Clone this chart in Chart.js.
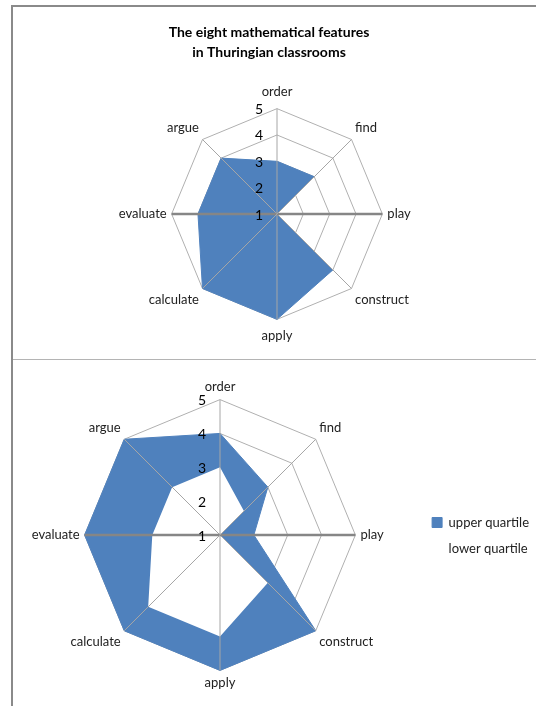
<!DOCTYPE html>
<html>
<head>
<meta charset="utf-8">
<script src="https://cdn.jsdelivr.net/npm/chart.js@4.4.1/dist/chart.umd.min.js"></script>
<style>
  html, body { margin: 0; padding: 0; background: #fff; }
  body { width: 536px; height: 706px; position: relative; overflow: hidden; }
  .frame { position: absolute; left: 11px; top: 5px; width: 540px; height: 720px; border-left: 2px solid #8a8a8a; border-top: 2px solid #8a8a8a; }
  .sep { position: absolute; left: 13px; top: 359px; width: 523px; height: 0; border-top: 1px solid #b4b4b4; }
  #topChart { position: absolute; left: 13px; top: 8px; }
  #bottomChart { position: absolute; left: 13px; top: 360px; }
</style>
</head>
<body>
<div class="frame"></div>
<div class="sep"></div>
<canvas id="topChart" width="523" height="351"></canvas>
<canvas id="bottomChart" width="526" height="346"></canvas>
<script>
// Data
const features = ['order', 'find', 'play', 'construct', 'apply', 'calculate', 'evaluate', 'argue'];
const overallValues = [3, 3, 1, 4, 5, 5, 4, 4];
const upperQuartile = [4, 3, 2, 5, 5, 5, 5, 5];
const lowerQuartile = [3, 2, 1, 3, 4, 4, 3, 3];
const tickValues = [1, 2, 3, 4, 5];

const BLUE = '#4F81BD';
const FONT = 'Lato';

// Spokes go on top of the filled areas (rings stay underneath, like Excel)
const spokesPlugin = {
    id: 'spokes',
    afterDatasetsDraw(chart) {
        const scale = chart.scales.r;
        const ctx = chart.ctx;
        ctx.save();
        for (let i = features.length - 1; i >= 0; i--) {
            const horizontal = (i === 2 || i === 6);
            const end = scale.getPointPositionForValue(i, scale.max);
            ctx.beginPath();
            ctx.strokeStyle = horizontal ? '#868686' : '#a6a6a6';
            ctx.lineWidth = horizontal ? 2.5 : 1;
            ctx.moveTo(scale.xCenter, scale.yCenter);
            ctx.lineTo(end.x, end.y);
            ctx.stroke();
        }
        ctx.restore();
    }
};

// Excel-style tick numbers sitting left of the vertical axis
const tickLabelPlugin = {
    id: 'tickLabels',
    afterDraw(chart) {
        const scale = chart.scales.r;
        const ctx = chart.ctx;
        ctx.save();
        ctx.font = '14px ' + FONT;
        ctx.fillStyle = '#000';
        ctx.textAlign = 'right';
        ctx.textBaseline = 'middle';
        tickValues.forEach(v => {
            const p = scale.getPointPositionForValue(0, v);
            ctx.fillText(String(v), p.x - 14, p.y + 1);
        });
        ctx.restore();
    }
};

function radarScale(vPad) {
    return {
        min: 1,
        max: 5,
        ticks: { display: false, stepSize: 1 },
        grid: { color: '#b0b0b0', lineWidth: 1 },
        angleLines: { display: false },
        pointLabels: {
            color: '#222',
            padding: ctx => (ctx.index === 0 || ctx.index === 4) ? vPad : 5,
            font: { family: FONT, size: 13 }
        }
    };
}

new Chart(document.getElementById('topChart'), {
    type: 'radar',
    data: {
        labels: features,
        datasets: [{
            label: 'Thuringian classrooms',
            data: overallValues,
            fill: true,
            backgroundColor: BLUE,
            borderColor: BLUE,
            borderWidth: 1,
            pointRadius: 0,
            pointHoverRadius: 0
        }]
    },
    options: {
        responsive: false,
        animation: false,
        layout: { padding: { left: 92, right: 103, top: 0, bottom: 15 } },
        scales: { r: radarScale(9) },
        plugins: {
            legend: { display: false },
            tooltip: { enabled: false },
            title: {
                display: true,
                text: ['The eight mathematical features', 'in Thuringian classrooms'],
                color: '#000',
                font: { family: FONT, size: 14, weight: 'bold', lineHeight: 1.43 },
                padding: { top: 14, bottom: 22 }
            }
        }
    },
    plugins: [spokesPlugin, tickLabelPlugin]
});

new Chart(document.getElementById('bottomChart'), {
    type: 'radar',
    data: {
        labels: features,
        datasets: [{
            label: 'upper quartile',
            data: upperQuartile,
            fill: true,
            order: 1,
            backgroundColor: BLUE,
            borderColor: BLUE,
            borderWidth: 1,
            pointRadius: 0,
            pointHoverRadius: 0
        }, {
            label: 'lower quartile',
            data: lowerQuartile,
            fill: true,
            order: 0,
            backgroundColor: '#ffffff',
            borderColor: 'rgba(255,255,255,0)',
            borderWidth: 1,
            pointRadius: 0,
            pointHoverRadius: 0
        }]
    },
    options: {
        responsive: false,
        animation: false,
        layout: { padding: { left: 2, right: 0, top: 19, bottom: 14 } },
        scales: { r: radarScale(5) },
        plugins: {
            tooltip: { enabled: false },
            legend: {
                position: 'right',
                labels: {
                    boxWidth: 10,
                    boxHeight: 10,
                    padding: 13,
                    color: '#222',
                    font: { family: FONT, size: 13 },
                    sort: (a, b) => a.datasetIndex - b.datasetIndex
                }
            }
        }
    },
    plugins: [spokesPlugin, tickLabelPlugin]
});
</script>
</body>
</html>
